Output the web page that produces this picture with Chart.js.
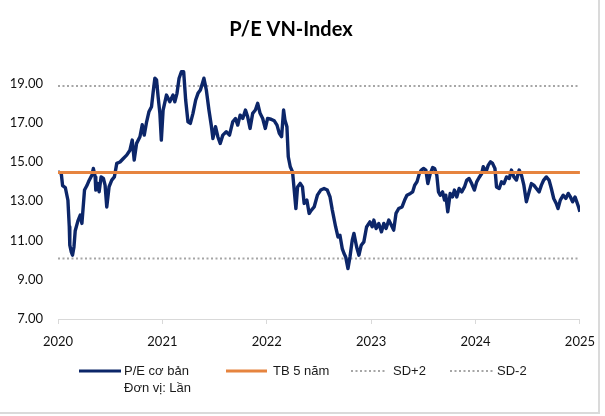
<!DOCTYPE html>
<html><head><meta charset="utf-8">
<script src="https://cdn.jsdelivr.net/npm/chart.js@4.4.1/dist/chart.umd.min.js"></script>
<style>
html,body{margin:0;padding:0;background:#fff;overflow:hidden}
#wrap{position:relative;width:605px;height:416px}
canvas{display:block}
</style></head><body>
<div id="wrap"><canvas id="c" width="605" height="416"></canvas></div>
<script>
// ---- data (decimal years, P/E values) ----
const dates = [
2020.000,2020.031,2020.044,2020.070,2020.095,2020.108,2020.113,2020.127,2020.139,2020.153,
2020.165,2020.191,2020.213,2020.229,2020.254,2020.277,2020.292,2020.324,2020.339,2020.356,
2020.362,2020.381,2020.394,2020.413,2020.435,2020.451,2020.467,2020.489,2020.515,2020.540,
2020.563,2020.594,2020.626,2020.658,2020.689,2020.711,2020.730,2020.753,2020.785,2020.807,
2020.826,2020.849,2020.871,2020.896,2020.912,2020.928,2020.944,2020.959,2020.976,2020.990,
2021.007,2021.039,2021.071,2021.102,2021.119,2021.140,2021.160,2021.182,2021.204,2021.223,
2021.245,2021.268,2021.293,2021.319,2021.341,2021.364,2021.383,2021.398,2021.421,2021.446,
2021.468,2021.484,2021.509,2021.531,2021.554,2021.579,2021.612,2021.643,2021.674,2021.700,
2021.722,2021.745,2021.770,2021.796,2021.817,2021.840,2021.865,2021.891,2021.913,2021.936,
2021.961,2021.986,2022.008,2022.041,2022.072,2022.098,2022.120,2022.142,2022.161,2022.174,
2022.193,2022.206,2022.225,2022.247,2022.263,2022.279,2022.295,2022.320,2022.342,2022.358,
2022.384,2022.406,2022.428,2022.454,2022.485,2022.517,2022.549,2022.580,2022.606,2022.628,
2022.660,2022.682,2022.701,2022.723,2022.740,2022.756,2022.778,2022.797,2022.819,2022.835,
2022.861,2022.883,2022.905,2022.930,2022.956,2022.988,2023.010,2023.026,2023.048,2023.073,
2023.099,2023.121,2023.143,2023.169,2023.194,2023.216,2023.238,2023.264,2023.296,2023.321,
2023.343,2023.376,2023.398,2023.417,2023.439,2023.461,2023.480,2023.502,2023.524,2023.543,
2023.566,2023.589,2023.608,2023.629,2023.645,2023.662,2023.684,2023.703,2023.715,2023.734,
2023.757,2023.779,2023.798,2023.820,2023.843,2023.868,2023.894,2023.916,2023.938,2023.963,
2023.989,2024.011,2024.033,2024.058,2024.074,2024.100,2024.122,2024.144,2024.163,2024.186,
2024.201,2024.227,2024.249,2024.272,2024.297,2024.323,2024.344,2024.367,2024.392,2024.418,
2024.440,2024.463,2024.487,2024.513,2024.535,2024.558,2024.583,2024.609,2024.631,2024.653,
2024.678,2024.704,2024.726,2024.749,2024.773,2024.790,2024.812,2024.840,2024.865,2024.888,
2024.909,2024.930,2024.953,2024.970,2024.987,2025.000
];
const peValues = [
14.50,14.43,13.80,13.70,13.05,11.70,10.76,10.42,10.25,10.67,
11.50,12.00,12.30,11.87,13.57,13.80,13.99,14.33,14.67,14.24,
13.57,13.90,13.48,14.24,14.16,13.82,12.71,13.73,14.08,14.24,
14.93,15.00,15.18,15.35,15.60,16.12,15.10,15.95,16.29,16.90,
16.37,17.05,17.56,17.82,18.58,19.27,19.18,18.33,17.48,16.12,
17.65,18.41,18.07,18.41,18.07,18.50,19.27,19.60,19.60,18.16,
17.05,16.97,17.48,18.16,18.50,18.67,19.00,19.27,18.67,17.65,
16.88,16.20,16.80,16.29,15.95,16.37,16.54,16.37,17.05,17.22,
16.88,17.39,17.22,17.65,17.30,16.71,17.48,17.65,17.99,17.48,
17.22,16.71,17.22,17.18,17.10,16.88,16.46,16.29,17.65,17.14,
16.80,15.27,14.76,14.50,13.57,12.63,13.73,13.91,13.73,12.89,
13.06,12.38,12.55,12.71,13.31,13.57,13.65,13.57,13.22,12.55,
11.69,11.18,11.27,10.59,10.34,10.16,9.57,10.16,11.02,11.36,
10.67,10.25,10.76,10.93,11.69,11.95,11.70,12.04,11.61,11.87,
11.44,11.87,11.61,12.04,11.78,11.53,12.38,12.63,12.71,13.06,
13.31,13.40,13.48,13.82,13.99,14.41,14.59,14.67,14.59,13.90,
14.41,14.72,14.67,14.33,13.48,13.31,13.48,13.06,13.31,12.46,
13.40,13.22,13.57,13.22,13.65,13.48,13.73,14.08,14.16,13.90,
13.57,13.99,14.20,14.40,14.76,14.50,14.84,15.01,14.93,14.67,
13.73,13.65,13.99,13.90,14.24,14.16,14.59,14.24,14.08,14.59,
14.33,13.82,12.97,13.48,13.90,13.82,13.65,13.48,13.82,14.08,
14.24,14.08,13.65,13.14,12.89,12.63,13.06,13.31,13.14,13.40,
13.22,12.97,13.22,12.97,12.71,12.46
];
const avg5y = 14.47;
const sdPlus2 = 18.87;
const sdMinus2 = 10.08;
const xTicks = [2020, 2021, 2022, 2023, 2024, 2025];
const yTicks = [7, 9, 11, 13, 15, 17, 19];
const seriesLabels = [['P/E cơ bản', 'Đơn vị: Lần'], 'TB 5 năm', 'SD+2', 'SD-2'];
const chartTitle = 'P/E VN-Index';

// ---- build ----
const xMin = xTicks[0], xMax = xTicks[xTicks.length - 1];
const flat = v => [{x: xMin, y: v}, {x: xMax, y: v}];

const legendPlugin = {
  id: 'customLegend',
  afterDraw(chart) {
    const ctx = chart.ctx;
    const y = 371;
    const slots = [{x: 79, len: 42, tx: 124}, {x: 226, len: 41, tx: 273}, {x: 351, len: 36, tx: 393}, {x: 450, len: 43, tx: 497}];
    ctx.save();
    ctx.font = '13px "Liberation Sans", Arial, sans-serif';
    ctx.textBaseline = 'middle';
    ctx.fillStyle = '#1a1a1a';
    chart.data.datasets.forEach((ds, i) => {
      const s = slots[i];
      ctx.strokeStyle = ds.borderColor;
      ctx.lineWidth = ds.borderDash ? 2 : 3;
      ctx.setLineDash(ds.borderDash || []);
      ctx.beginPath();
      ctx.moveTo(s.x, y);
      ctx.lineTo(s.x + s.len, y);
      ctx.stroke();
      [].concat(ds.label).forEach((t, j) => ctx.fillText(t, s.tx, y + j * 17));
    });
    ctx.restore();
  }
};

const framePlugin = {
  id: 'frame',
  afterDraw(chart) {
    const ctx = chart.ctx;
    ctx.save();
    ctx.strokeStyle = '#DADADA';
    ctx.lineWidth = 2;
    ctx.beginPath();
    ctx.moveTo(599, 0); ctx.lineTo(599, 413); ctx.lineTo(0, 413);
    ctx.stroke();
    ctx.restore();
  }
};

new Chart(document.getElementById('c'), {
  type: 'line',
  data: {
    datasets: [
      {label: seriesLabels[0], data: dates.map((d, i) => ({x: d, y: peValues[i]})),
       borderColor: '#0C2669', borderWidth: 3.4, pointRadius: 0, tension: 0, borderJoinStyle: 'round', order: 1},
      {label: seriesLabels[1], data: flat(avg5y), borderColor: '#E6843F', borderWidth: 3, pointRadius: 0, order: 0},
      {label: seriesLabels[2], data: flat(sdPlus2), borderColor: '#A6A6A6', borderWidth: 2, borderDash: [2, 2.5], pointRadius: 0, order: 2},
      {label: seriesLabels[3], data: flat(sdMinus2), borderColor: '#A6A6A6', borderWidth: 2, borderDash: [2, 2.5], pointRadius: 0, order: 2}
    ]
  },
  options: {
    responsive: false,
    animation: false,
    devicePixelRatio: 1,
    events: [],
    layout: {padding: {left: 0, right: 23, top: 0, bottom: 62}},
    plugins: {
      legend: {display: false},
      tooltip: {enabled: false},
      title: {display: true, text: chartTitle, color: '#000',
              font: {family: 'Lato', size: 20, weight: 'bold'},
              padding: {top: 18, bottom: 21.9}}
    },
    scales: {
      x: {type: 'linear', min: xMin, max: xMax,
          afterBuildTicks: s => { s.ticks = xTicks.map(v => ({value: v})); },
          ticks: {callback: v => String(v), color: '#111', font: {family: 'Lato', size: 13}, padding: 10, maxRotation: 0, autoSkip: false},
          grid: {drawOnChartArea: false, drawTicks: true, tickLength: 5, color: '#D9D9D9', lineWidth: 1},
          border: {color: '#D9D9D9', width: 1},
          afterFit: s => { s.height = 35; }},
      y: {min: 7, max: 20,
          afterBuildTicks: s => { s.ticks = yTicks.map(v => ({value: v})); },
          ticks: {callback: v => Number(v).toFixed(2), color: '#111', font: {family: 'Lato', size: 13}, padding: 15},
          grid: {display: false, drawTicks: false},
          border: {display: false},
          afterFit: s => { s.width = 58; }}
    }
  },
  plugins: [legendPlugin, framePlugin]
});
</script>
</body></html>
